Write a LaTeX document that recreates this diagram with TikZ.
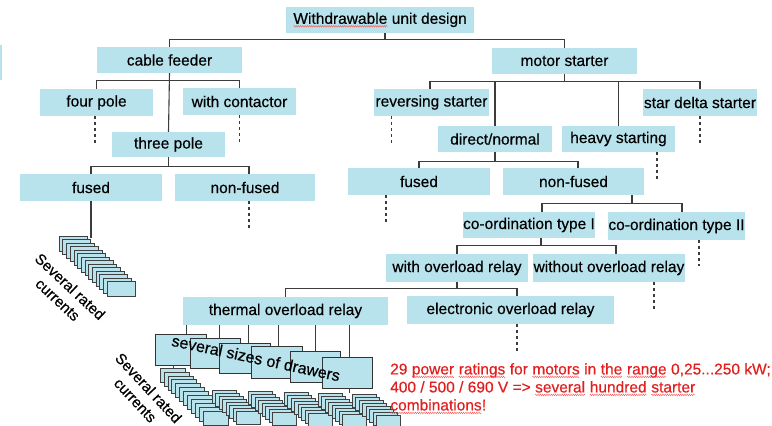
\documentclass[tikz,border=0pt]{standalone}
\usepackage{fontspec}
\setmainfont[FakeBold=0.4]{Liberation Sans}
\usetikzlibrary{calc,decorations.pathmorphing}
\definecolor{boxblue}{RGB}{184,226,236}
\definecolor{linegray}{RGB}{60,60,60}
\definecolor{redtext}{RGB}{226,30,30}
\newcommand\mystack[7]{%
  \foreach \i in {0,...,#3}{\path[small] ({#1+\i*#4},{#2+\i*#5}) rectangle ++(#6,#7);}}
\newcommand\sqw[1]{\tikz[baseline=(w.base)]{\node[inner sep=0pt, outer sep=0pt, minimum width=0pt,
  minimum height=0pt, fill=none, draw=none] (w) {#1};
  \draw[squig] ([yshift=-2.5pt]w.base west) -- ([yshift=-2.5pt]w.base east);}}
\begin{document}
\begin{tikzpicture}[x=1pt,y=-1pt,
  box/.style={fill=boxblue, draw=none, inner sep=0pt, font=\fontsize{15.5}{18}\selectfont, text=black},
  conn/.style={draw=linegray, line width=1.1pt},
  dashline/.style={draw=linegray, line width=1.1pt, dash pattern=on 3pt off 3pt},
  drawer/.style={fill=boxblue, draw=black!80, line width=0.9pt, inner sep=0pt},
  small/.style={fill=boxblue, draw=black!75, line width=0.5pt},
  squig/.style={draw=red!70!white, line width=0.35pt, decorate, decoration={snake, amplitude=0.9pt, segment length=2.2pt}},
  rot/.style={font=\fontsize{15}{18}\selectfont, align=center, inner sep=0pt}]
\useasboundingbox (0,0) rectangle (772,426);
\fill[boxblue] (0,45) rectangle (2,80);

% ---- boxes ----
\node[box, minimum width=188, minimum height=26] (title) at (380,20) {\sqw{Withdrawable} unit design};
\node[box, minimum width=145, minimum height=26] (cable) at (169.5,60) {cable feeder};
\node[box, minimum width=145, minimum height=26] (motor) at (564.5,61) {motor starter};
\node[box, minimum width=113, minimum height=27] (fourpole) at (96.5,102.5) {four pole};
\node[box, minimum width=113, minimum height=27] (contactor) at (239.5,101.5) {with contactor};
\node[box, minimum width=113, minimum height=25] (threepole) at (168.5,144.5) {three pole};
\node[box, minimum width=142, minimum height=27] (fusedL) at (91,187.5) {fused};
\node[box, minimum width=140, minimum height=27] (nonfusedL) at (245,187.5) {non-fused};
\node[box, minimum width=115, minimum height=27] (reversing) at (431.5,102.5) {reversing starter};
\node[box, minimum width=114, minimum height=27] (stardelta) at (700,102.5) {star delta starter};
\node[box, minimum width=114, minimum height=26] (direct) at (495,139) {direct/normal};
\node[box, minimum width=113, minimum height=26] (heavy) at (618.5,139) {heavy starting};
\node[box, minimum width=142, minimum height=27] (fusedR) at (419,181.5) {fused};
\node[box, minimum width=141, minimum height=27] (nonfusedR) at (573.5,181.5) {non-fused};
\node[box, minimum width=132, minimum height=26] (coord1) at (529,225) {co-ordination type I};
\node[box, minimum width=137, minimum height=28] (coord2) at (676.5,226) {co-ordination type II};
\node[box, minimum width=142, minimum height=28] (withOL) at (457,268) {with overload relay};
\node[box, minimum width=152, minimum height=28] (withoutOL) at (609,268) {without overload relay};
\node[box, minimum width=205, minimum height=28] (thermal) at (285.5,311) {thermal overload relay};
\node[box, minimum width=207, minimum height=28] (electronic) at (510.5,310) {electronic overload relay};

% ---- connectors ----
\coordinate (b1) at ($([xshift=5]title.south)+(0,6)$);
\draw[conn] ([xshift=5]title.south) -- (b1);
\draw[conn] (cable.north) |- (b1) -| (motor.north);

\coordinate (b2) at ($(cable.south)+(0,7)$);
\draw[conn] (cable.south) -- (threepole.north);
\draw[conn] (fourpole.north) |- (b2) -| (contactor.north);
\draw[dashline] ([xshift=-1.5]fourpole.south) -- ++(0,27);
\draw[dashline] (contactor.south) -- ++(0,27);

\coordinate (b3) at ($(threepole.south)+(0,9)$);
\draw[conn] (threepole.south) -- (b3);
\draw[conn] (fusedL.north) |- (b3) -| ([xshift=4]nonfusedL.north);
\draw[conn] (fusedL.south) -- ++(0,37);
\draw[dashline] ([xshift=4]nonfusedL.south) -- ++(0,27);

\coordinate (b4) at ($(motor.south)+(0,7)$);
\draw[conn] (motor.south) -- (b4);
\draw[conn] ([xshift=-1.5]reversing.north) |- (b4) -| (stardelta.north);
\draw[conn] (direct.north) -- (direct.north |- b4);
\draw[conn] (heavy.north) -- (heavy.north |- b4);
\draw[dashline] ([xshift=-40]reversing.south) -- ++(0,27);
\draw[dashline] (stardelta.south) -- ++(0,27);
\draw[dashline] ([xshift=38.5]heavy.south) -- ++(0,28);

\coordinate (b5) at ($(direct.south)+(0,9)$);
\draw[conn] (direct.south) -- (b5);
\draw[conn] (fusedR.north) |- (b5) -| ([xshift=4.5]nonfusedR.north);
\draw[dashline] ([xshift=-33]fusedR.south) -- ++(0,27);

\coordinate (b6) at ($([xshift=58.5]nonfusedR.south)+(0,8)$);
\draw[conn] ([xshift=58.5]nonfusedR.south) -- (b6);
\draw[conn] ([xshift=13]coord1.north) |- (b6) -| ([xshift=5.5]coord2.north);
\draw[dashline] ([xshift=22.5]coord2.south) -- ++(0,26);

\coordinate (b7) at ($([xshift=12]coord1.south)+(0,7)$);
\draw[conn] ([xshift=12]coord1.south) -- (b7);
\draw[conn] (withOL.north) |- (b7) -| ([xshift=7]withoutOL.north);
\draw[dashline] ([xshift=45]withoutOL.south) -- ++(0,27);

\coordinate (b8) at ($(withOL.south)+(0,6)$);
\draw[conn] (withOL.south) -- (b8);
\draw[conn] (thermal.north) |- (b8) -| ([xshift=6.5]electronic.north);
\draw[dashline] ([xshift=6.5]electronic.south) -- ++(0,28);

% ---- left stack ----
\mystack{59}{236}{13}{3.7}{3.5}{28}{15}
\node[rot, rotate=-43] (lbl1) at (64,293) {Several rated\\currents};

% ---- drawers ----
\node[drawer, minimum width=51, minimum height=31] (d1) at (180.5,349.5) {};
\node[drawer, minimum width=50, minimum height=30] (d2) at (215,353) {};
\node[drawer, minimum width=51, minimum height=30] (d3) at (244.5,358) {};
\node[drawer, minimum width=51, minimum height=32] (d4) at (276.5,362) {};
\node[drawer, minimum width=50, minimum height=31] (d5) at (315,366.5) {};
\node[drawer, minimum width=50, minimum height=31] (d6) at (347,372.5) {};
\draw[conn, line width=0.9pt] ([xshift=5.5]d1.north) -- ([xshift=5.5]d1.north |- thermal.south);
\draw[conn, line width=0.9pt] ([xshift=4]d2.north) -- ([xshift=4]d2.north |- thermal.south);
\draw[conn, line width=0.9pt] ([xshift=3.5]d3.north) -- ([xshift=3.5]d3.north |- thermal.south);
\draw[conn, line width=0.9pt] ([xshift=1.5]d4.north) -- ([xshift=1.5]d4.north |- thermal.south);
\draw[conn, line width=0.9pt] (d5.north) -- (d5.north |- thermal.south);
\draw[conn, line width=0.9pt] ([xshift=2]d6.north) -- ([xshift=2]d6.north |- thermal.south);
\node[font=\fontsize{16}{18}\selectfont, rotate=-12, inner sep=0pt] (drw) at (256,358) {several sizes of drawers};

% ---- lower stacks ----
\draw[conn, line width=0.8pt] ([xshift=-7.5]d1.south) -- ++(0,4);
\mystack{160}{368}{11}{3.9}{3.9}{25}{14}
\draw[conn, line width=0.8pt] ([xshift=2]d6.south) -- ++(0,5);
\mystack{212}{390}{7}{3.5}{3}{24}{13}
\mystack{248}{391}{7}{3.5}{3}{24}{13}
\mystack{284}{392}{7}{3.5}{3}{24}{13}
\mystack{318}{393}{7}{3.5}{3}{24}{13}
\mystack{352}{394}{7}{3.5}{3}{24}{13}
\node[rot, rotate=-47] (lbl2) at (142,394) {Several rated\\currents};

% ---- red note ----
\node[anchor=north west, align=left, inner sep=0pt, text=redtext,
      font=\fontsize{15.5}{18}\selectfont] (note) at (390,363)
  {29 \sqw{power} \sqw{ratings} for \sqw{motors} in \sqw{the} \sqw{range} 0,25...250 kW;\\
   400 / 500 / 690 V => \sqw{several} \sqw{hundred} \sqw{starter}\\
   \sqw{combinations}!};
\end{tikzpicture}
\end{document}
